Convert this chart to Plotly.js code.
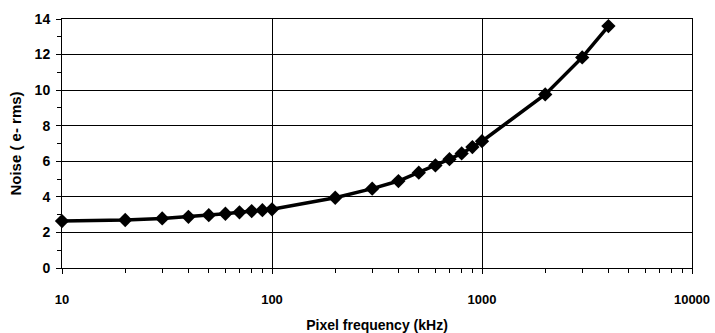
<!DOCTYPE html>
<html>
<head>
<meta charset="utf-8">
<script src="https://cdn.plot.ly/plotly-3.0.1.min.js"></script>
<style>html,body{margin:0;padding:0;background:#fff;}#chart{width:715px;height:333px;}</style>
</head>
<body>
<div id="chart"></div>
<script>
const freqKHz = [10, 20, 30, 40, 50, 60, 70, 80, 90, 100, 200, 300, 400, 500, 600, 700, 800, 900, 1000, 2000, 3000, 4000];
const noiseErms = [2.64, 2.70, 2.79, 2.88, 2.97, 3.05, 3.13, 3.20, 3.25, 3.30, 3.95, 4.46, 4.89, 5.36, 5.77, 6.12, 6.44, 6.80, 7.13, 9.76, 11.84, 13.60];
const xTickVals = [10, 100, 1000, 10000];
const xTickText = ['10', '100', '1000', '10000'];
const xMinorVals = [20, 30, 40, 50, 60, 70, 80, 90, 200, 300, 400, 500, 600, 700, 800, 900, 2000, 3000, 4000, 5000, 6000, 7000, 8000, 9000];

const font = {family: 'Liberation Sans, Arial, sans-serif', color: '#000'};

Plotly.newPlot('chart', [{
  x: freqKHz,
  y: noiseErms,
  type: 'scatter',
  mode: 'lines+markers',
  line: {color: '#000', width: 3.5},
  marker: {symbol: 'diamond', size: 11, color: '#000'},
  cliponaxis: false,
  showlegend: false
}], {
  width: 715,
  height: 333,
  margin: {l: 62, r: 23, t: 19, b: 65},
  paper_bgcolor: '#fff',
  plot_bgcolor: '#fff',
  font: font,
  xaxis: {
    type: 'log',
    range: [1, 4],
    tickmode: 'array',
    tickvals: xTickVals,
    ticktext: xTickText,
    ticks: 'outside',
    ticklen: 5,
    tickwidth: 1,
    tickcolor: '#000',
    ticklabelstandoff: 14,
    tickfont: {family: font.family, size: 13, color: '#000', weight: 'bold'},
    showgrid: true,
    gridcolor: '#000',
    gridwidth: 1,
    showline: true,
    linecolor: '#000',
    linewidth: 1,
    mirror: true,
    zeroline: false,
    minor: {tickmode: 'array', tickvals: xMinorVals, ticks: 'outside', ticklen: 4, tickcolor: '#000', showgrid: false},
    title: {text: 'Pixel frequency (kHz)', font: {family: font.family, size: 14, color: '#000', weight: 'bold'}, standoff: 15}
  },
  yaxis: {
    range: [0, 14],
    tickmode: 'linear',
    tick0: 0,
    dtick: 2,
    ticks: 'outside',
    ticklen: 5,
    tickwidth: 1,
    tickcolor: '#000',
    ticklabelstandoff: 3,
    tickfont: {family: font.family, size: 14, color: '#000', weight: 'bold'},
    showgrid: true,
    gridcolor: '#000',
    gridwidth: 1,
    showline: true,
    linecolor: '#000',
    linewidth: 1,
    mirror: true,
    zeroline: false,
    minor: {tickmode: 'linear', tick0: 1, dtick: 2, ticks: 'outside', ticklen: 4, tickcolor: '#000', showgrid: false},
    title: {text: 'Noise ( e- rms)', font: {family: font.family, size: 15, color: '#000', weight: 'bold'}, standoff: 9}
  }
}, {displayModeBar: false, staticPlot: true});
</script>
</body>
</html>
